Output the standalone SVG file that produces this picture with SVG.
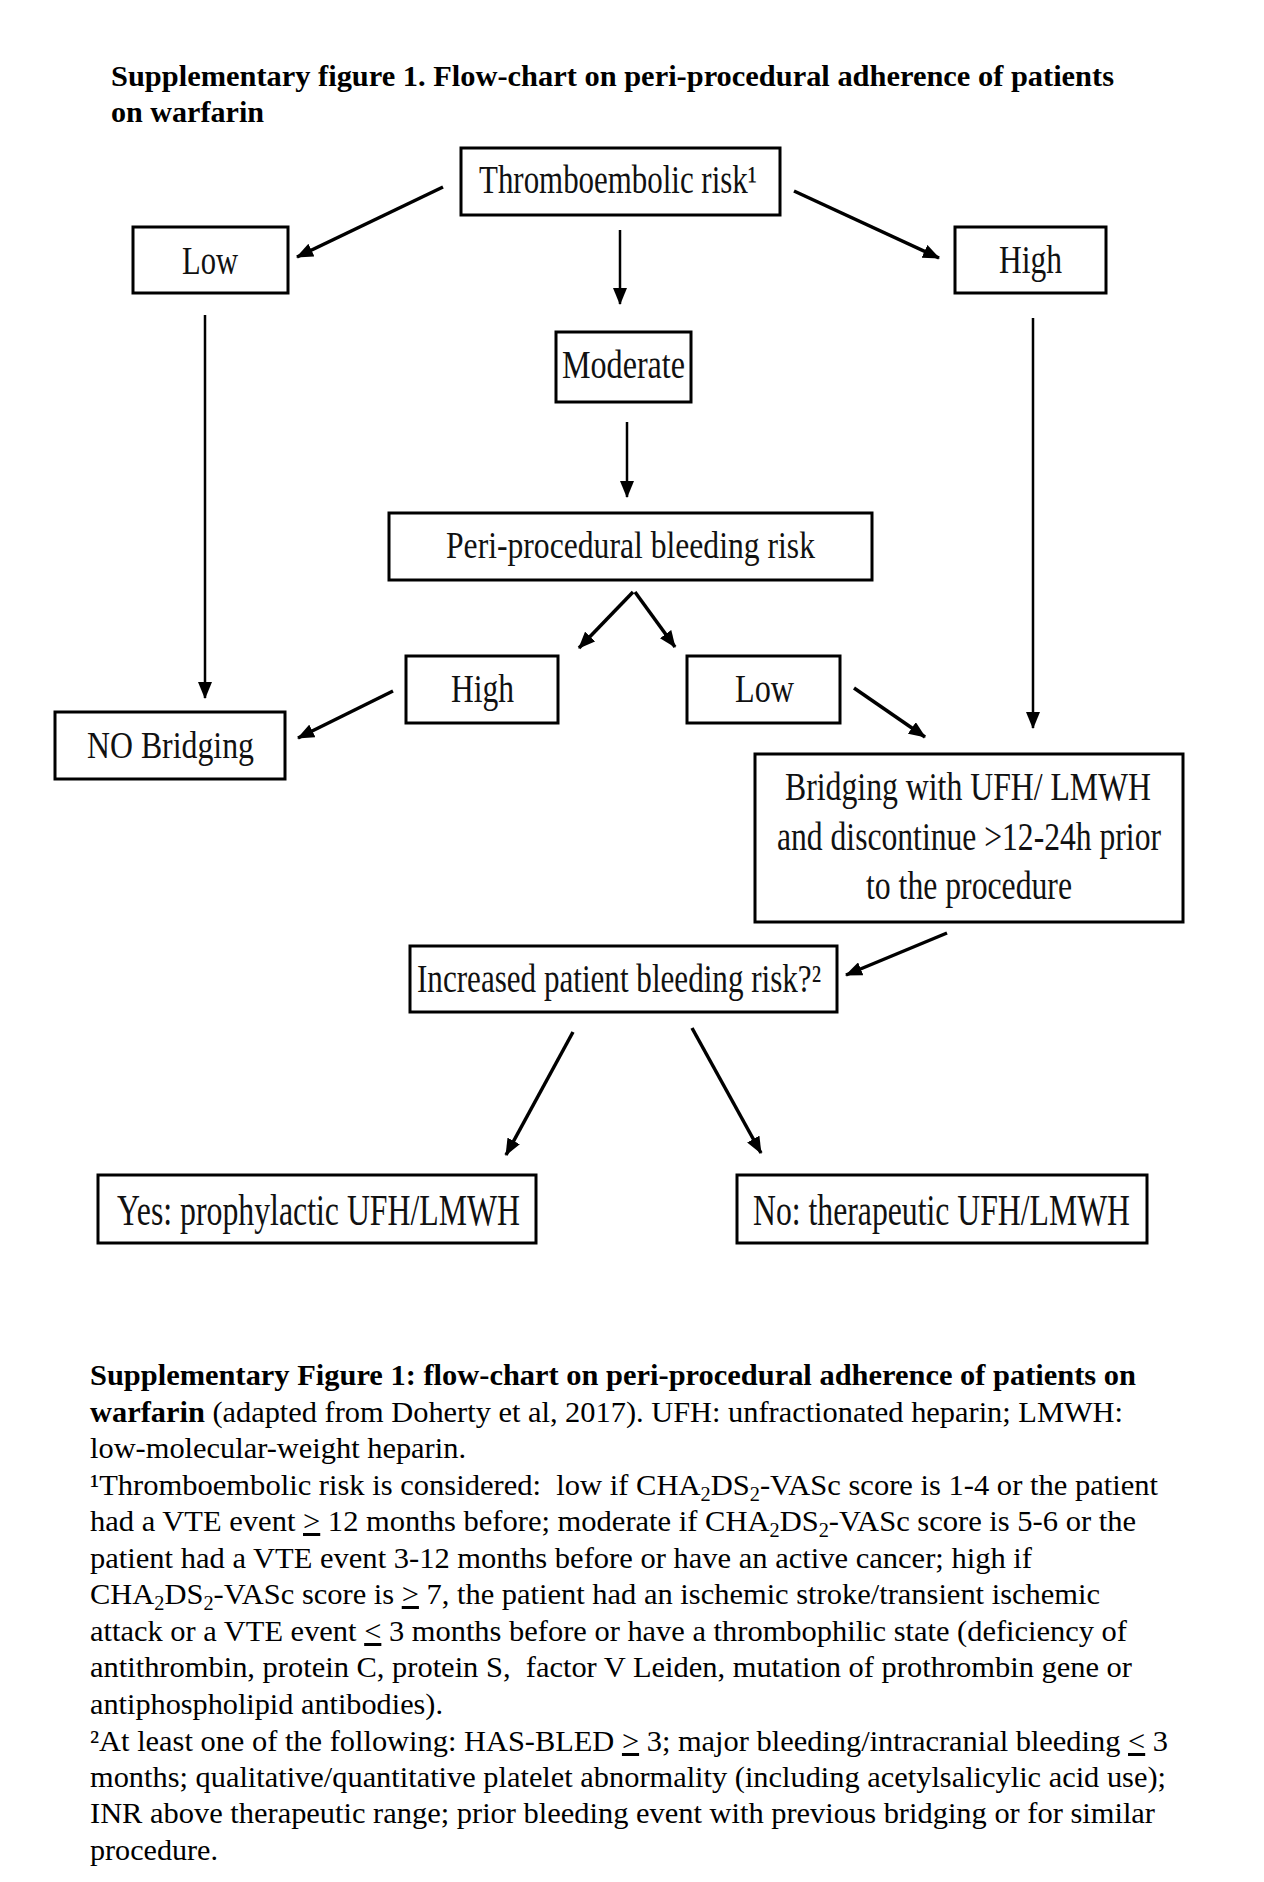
<svg xmlns="http://www.w3.org/2000/svg" width="1264" height="1882" viewBox="0 0 1264 1882">
<style>
.box{fill:#fff;stroke:#000;stroke-width:3}
.bt{font-family:"Liberation Serif","Times New Roman",serif;font-size:40px;fill:#111}
.big{font-size:44px}
.mid{font-size:37px}
.ttl{font-family:"Liberation Serif","Times New Roman",serif;font-size:30px;font-weight:bold;fill:#000}
.cap{font-family:"Liberation Serif","Times New Roman",serif;font-size:30px;fill:#000}
.b{font-weight:bold}
.u{text-decoration:underline}
.sub{font-size:20px}
#connectors line{stroke:#000;stroke-width:3.5;marker-end:url(#ah)}
#connectors line.thin{stroke-width:2.5}
</style>
<defs>
<marker id="ah" markerUnits="userSpaceOnUse" markerWidth="18" markerHeight="14" refX="16" refY="7" orient="auto">
<path d="M0,0 L17,7 L0,14 z" fill="#000"/>
</marker>
</defs>
<rect width="1264" height="1882" fill="#fff"/>

<g id="title">
<text class="ttl" x="111" y="86" textLength="1003" lengthAdjust="spacingAndGlyphs">Supplementary figure 1. Flow-chart on peri-procedural adherence of patients</text>
<text class="ttl" x="111" y="122" textLength="153" lengthAdjust="spacingAndGlyphs">on warfarin</text>
</g>

<g id="connectors">
<line x1="443" y1="187" x2="297" y2="257"/>
<line x1="794" y1="191" x2="939" y2="258"/>
<line class="thin" x1="620" y1="230" x2="620" y2="304"/>
<line class="thin" x1="205" y1="315" x2="205" y2="698"/>
<line class="thin" x1="1033" y1="318" x2="1033" y2="728"/>
<line class="thin" x1="627" y1="422" x2="627" y2="497"/>
<line x1="633" y1="592" x2="579" y2="648"/>
<line x1="635" y1="592" x2="675" y2="647"/>
<line x1="393" y1="691" x2="298" y2="738"/>
<line x1="854" y1="688" x2="925" y2="737"/>
<line x1="947" y1="933" x2="846" y2="975"/>
<line x1="573" y1="1032" x2="506" y2="1155"/>
<line x1="692" y1="1028" x2="761" y2="1153"/>
</g>

<g id="thrombo">
<rect class="box" x="461" y="148" width="319" height="67"/>
<text class="bt" x="479" y="193" textLength="278" lengthAdjust="spacingAndGlyphs">Thromboembolic risk¹</text>
</g>
<g id="low1">
<rect class="box" x="133" y="227" width="155" height="66"/>
<text class="bt" x="182" y="274" textLength="56" lengthAdjust="spacingAndGlyphs">Low</text>
</g>
<g id="high1">
<rect class="box" x="955" y="227" width="151" height="66"/>
<text class="bt" x="999" y="273" textLength="63" lengthAdjust="spacingAndGlyphs">High</text>
</g>
<g id="moderate">
<rect class="box" x="556" y="332" width="135" height="70"/>
<text class="bt" x="562" y="378" textLength="123" lengthAdjust="spacingAndGlyphs">Moderate</text>
</g>
<g id="peri">
<rect class="box" x="389" y="513" width="483" height="67"/>
<text class="bt mid" x="446" y="558" textLength="369" lengthAdjust="spacingAndGlyphs">Peri-procedural bleeding risk</text>
</g>
<g id="high2">
<rect class="box" x="406" y="656" width="152" height="67"/>
<text class="bt" x="451" y="702" textLength="63" lengthAdjust="spacingAndGlyphs">High</text>
</g>
<g id="low2">
<rect class="box" x="687" y="656" width="153" height="67"/>
<text class="bt" x="735" y="702" textLength="59" lengthAdjust="spacingAndGlyphs">Low</text>
</g>
<g id="nobridging">
<rect class="box" x="55" y="712" width="230" height="67"/>
<text class="bt mid" x="87" y="758" textLength="167" lengthAdjust="spacingAndGlyphs">NO Bridging</text>
</g>
<g id="bridging">
<rect class="box" x="755" y="754" width="428" height="168"/>
<text class="bt" x="785" y="800" textLength="366" lengthAdjust="spacingAndGlyphs">Bridging with UFH/ LMWH</text>
<text class="bt" x="777" y="850" textLength="384" lengthAdjust="spacingAndGlyphs">and discontinue &gt;12-24h prior</text>
<text class="bt" x="866" y="899" textLength="206" lengthAdjust="spacingAndGlyphs">to the procedure</text>
</g>
<g id="increased">
<rect class="box" x="410" y="946" width="427" height="66"/>
<text class="bt" x="417" y="992" textLength="404" lengthAdjust="spacingAndGlyphs">Increased patient bleeding risk?²</text>
</g>
<g id="yes">
<rect class="box" x="98" y="1175" width="438" height="68"/>
<text class="bt big" x="117" y="1225" textLength="403" lengthAdjust="spacingAndGlyphs">Yes: prophylactic UFH/LMWH</text>
</g>
<g id="no">
<rect class="box" x="737" y="1175" width="410" height="68"/>
<text class="bt big" x="753" y="1225" textLength="377" lengthAdjust="spacingAndGlyphs">No: therapeutic UFH/LMWH</text>
</g>

<g id="caption">
<text class="cap b" x="90" y="1385" textLength="1046" lengthAdjust="spacingAndGlyphs">Supplementary Figure 1: flow-chart on peri-procedural adherence of patients on</text>
<text class="cap" x="90" y="1422" textLength="1033" lengthAdjust="spacingAndGlyphs"><tspan class="b">warfarin</tspan> (adapted from Doherty et al, 2017). UFH: unfractionated heparin; LMWH:</text>
<text class="cap" x="90" y="1458" textLength="376" lengthAdjust="spacingAndGlyphs">low-molecular-weight heparin.</text>
<text class="cap" x="90" y="1495" textLength="1068" lengthAdjust="spacingAndGlyphs" xml:space="preserve">¹Thromboembolic risk is considered:  low if CHA<tspan class="sub" dy="6">2</tspan><tspan dy="-6">DS</tspan><tspan class="sub" dy="6">2</tspan><tspan dy="-6">-VASc score is 1-4 or the patient</tspan></text>
<text class="cap" x="90" y="1531" textLength="1046" lengthAdjust="spacingAndGlyphs">had a VTE event <tspan class="u">&gt;</tspan> 12 months before; moderate if CHA<tspan class="sub" dy="6">2</tspan><tspan dy="-6">DS</tspan><tspan class="sub" dy="6">2</tspan><tspan dy="-6">-VASc score is 5-6 or the</tspan></text>
<text class="cap" x="90" y="1568" textLength="942" lengthAdjust="spacingAndGlyphs">patient had a VTE event 3-12 months before or have an active cancer; high if</text>
<text class="cap" x="90" y="1604" textLength="1010" lengthAdjust="spacingAndGlyphs">CHA<tspan class="sub" dy="6">2</tspan><tspan dy="-6">DS</tspan><tspan class="sub" dy="6">2</tspan><tspan dy="-6">-VASc score is </tspan><tspan class="u">&gt;</tspan> 7, the patient had an ischemic stroke/transient ischemic</text>
<text class="cap" x="90" y="1641" textLength="1037" lengthAdjust="spacingAndGlyphs">attack or a VTE event <tspan class="u">&lt;</tspan> 3 months before or have a thrombophilic state (deficiency of</text>
<text class="cap" x="90" y="1677" textLength="1042" lengthAdjust="spacingAndGlyphs" xml:space="preserve">antithrombin, protein C, protein S,  factor V Leiden, mutation of prothrombin gene or</text>
<text class="cap" x="90" y="1714" textLength="353" lengthAdjust="spacingAndGlyphs">antiphospholipid antibodies).</text>
<text class="cap" x="90" y="1751" textLength="1078" lengthAdjust="spacingAndGlyphs">²At least one of the following: HAS-BLED <tspan class="u">&gt;</tspan> 3; major bleeding/intracranial bleeding <tspan class="u">&lt;</tspan> 3</text>
<text class="cap" x="90" y="1787" textLength="1076" lengthAdjust="spacingAndGlyphs">months; qualitative/quantitative platelet abnormality (including acetylsalicylic acid use);</text>
<text class="cap" x="90" y="1823" textLength="1065" lengthAdjust="spacingAndGlyphs">INR above therapeutic range; prior bleeding event with previous bridging or for similar</text>
<text class="cap" x="90" y="1860" textLength="128" lengthAdjust="spacingAndGlyphs">procedure.</text>
</g>
</svg>
